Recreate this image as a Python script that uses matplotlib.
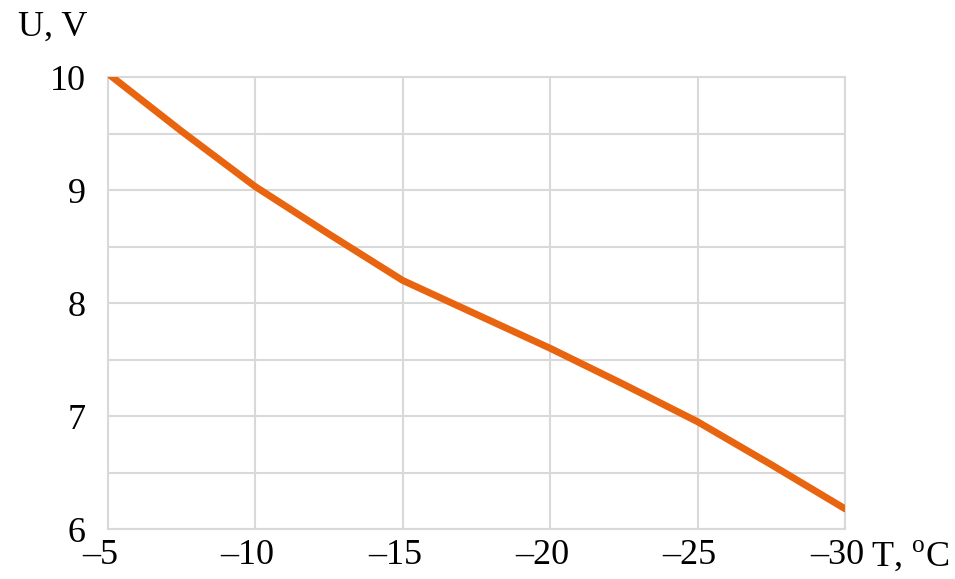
import matplotlib
matplotlib.use('Agg')
import matplotlib.pyplot as plt
import matplotlib.transforms as mtransforms

# temperature, degC and voltage, V
temps = [-5, -7.5, -10, -12.5, -15, -17.5, -20, -22.5, -25, -27.5, -30]
volts = [10.03, 9.52, 9.03, 8.61, 8.20, 7.90, 7.60, 7.28, 6.95, 6.57, 6.18]

x_ticks = [-5, -10, -15, -20, -25, -30]
x_labels = ['\u20135', '\u201310', '\u201315', '\u201320', '\u201325', '\u201330']
y_ticks = [6, 7, 8, 9, 10]

plt.rcParams['font.family'] = ['Liberation Serif', 'DejaVu Serif']
plt.rcParams['mathtext.fontset'] = 'custom'
plt.rcParams['mathtext.rm'] = 'Liberation Serif'

fig = plt.figure(figsize=(9.55, 5.79), dpi=100)
ax = fig.add_axes([0.113, 0.086, 0.772, 0.781])

ax.plot(temps, volts, color='#E8640F', linewidth=5, solid_capstyle='round', zorder=3)

ax.set_xlim(-5, -30)
ax.set_ylim(6, 10)
ax.set_xticks(x_ticks)
ax.set_xticklabels(x_labels)
ax.set_yticks(y_ticks)
ax.set_yticks([6.5, 7.5, 8.5, 9.5], minor=True)
ax.grid(True, which='both', color='#d9d9d9', linewidth=1.5, zorder=0)
ax.tick_params(which='both', length=0, labelsize=26)
ax.tick_params(axis='y', pad=16)
ax.tick_params(axis='x', pad=7)
for s in ax.spines.values():
    s.set_color('#d9d9d9')
    s.set_linewidth(1.5)

# x labels sit a little left of their grid lines in the reference
shift = mtransforms.ScaledTranslation(-8 / 100, 0, fig.dpi_scale_trans)
for lab in ax.get_xticklabels():
    lab.set_transform(lab.get_transform() + shift)

fig.text(0.019, 0.953, 'U, V', fontsize=26, ha='left', va='center')
fig.text(0.912, 0.040, r'T, $^{\mathrm{o}}$C', fontsize=26, ha='left', va='center')

plt.savefig('out.png', dpi=100)
